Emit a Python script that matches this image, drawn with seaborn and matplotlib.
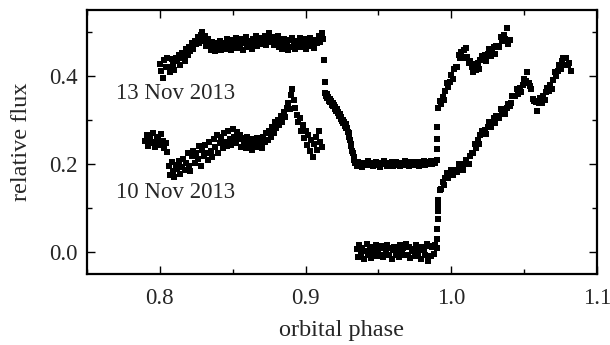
import numpy as np
import pandas as pd
import matplotlib
matplotlib.use("Agg")
import matplotlib.pyplot as plt
import seaborn as sns
from matplotlib.ticker import MultipleLocator

# ---------------- data ----------------
# 13 Nov 2013, pre-eclipse, phase 0.800 .. 0.912 step 0.001
nov13_pre_start = 0.800
nov13_pre = [0.427, 0.412, 0.396, 0.436, 0.420, 0.440, 0.421, 0.410, 0.439, 0.425,
             0.414, 0.442, 0.433, 0.448, 0.426, 0.452, 0.441, 0.435, 0.462, 0.448,
             0.466, 0.456, 0.474, 0.461, 0.480, 0.472, 0.488, 0.476, 0.494, 0.501,
             0.479, 0.490, 0.468, 0.484, 0.472, 0.460, 0.478, 0.466, 0.456, 0.474,
             0.462, 0.480, 0.458, 0.470, 0.476, 0.461, 0.483, 0.467, 0.474, 0.459,
             0.481, 0.470, 0.486, 0.463, 0.477, 0.468, 0.484, 0.460, 0.474, 0.488,
             0.466, 0.479, 0.471, 0.462, 0.485, 0.474, 0.490, 0.468, 0.480, 0.472,
             0.486, 0.476, 0.492, 0.470, 0.484, 0.497, 0.478, 0.488, 0.471, 0.485,
             0.474, 0.490, 0.466, 0.478, 0.462, 0.483, 0.470, 0.476, 0.459, 0.481,
             0.467, 0.486, 0.473, 0.462, 0.480, 0.470, 0.487, 0.465, 0.477, 0.484,
             0.461, 0.474, 0.468, 0.486, 0.470, 0.479, 0.464, 0.482, 0.474, 0.490,
             0.478, 0.497, 0.484]
# sparse points in the gap before ingress
nov13_ingress_dots_x = [0.9127, 0.9131]
nov13_ingress_dots_y = [0.437, 0.386]
# ingress, phase 0.9135 .. 0.9340 step 0.0005
nov13_ingress_start = 0.9135
nov13_ingress = [0.362, 0.354, 0.359, 0.349, 0.353, 0.344, 0.348, 0.340, 0.344, 0.335,
                 0.339, 0.331, 0.335, 0.326, 0.329, 0.320, 0.324, 0.315, 0.319, 0.309,
                 0.313, 0.303, 0.307, 0.298, 0.301, 0.292, 0.296, 0.286, 0.291, 0.281,
                 0.282, 0.272, 0.270, 0.261, 0.255, 0.245, 0.240, 0.230, 0.225, 0.215,
                 0.210, 0.203]
# totality plateau, phase 0.934 .. 0.990 step 0.001
nov13_flat_start = 0.934
nov13_flat = [0.202, 0.196, 0.205, 0.199, 0.201, 0.194, 0.203, 0.200, 0.197, 0.206,
              0.199, 0.202, 0.195, 0.201, 0.205, 0.198, 0.200, 0.194, 0.203, 0.199,
              0.207, 0.200, 0.196, 0.202, 0.199, 0.205, 0.195, 0.201, 0.204, 0.197,
              0.200, 0.195, 0.203, 0.199, 0.206, 0.197, 0.201, 0.196, 0.204, 0.200,
              0.197, 0.205, 0.199, 0.203, 0.196, 0.204, 0.200, 0.206, 0.198, 0.203,
              0.205, 0.199, 0.207, 0.201, 0.205, 0.202, 0.208]
# egress dots
nov13_egress_dots_x = [0.9902, 0.9903, 0.9904]
nov13_egress_dots_y = [0.233, 0.257, 0.284]
# post-egress, phase 0.991 .. 1.040 step 0.001
nov13_post_start = 0.991
nov13_post = [0.328, 0.344, 0.336, 0.353, 0.345, 0.366, 0.383, 0.374, 0.387, 0.403,
              0.394, 0.416, 0.420, 0.421, 0.448, 0.440, 0.454, 0.442, 0.458, 0.463,
              0.443, 0.430, 0.435, 0.420, 0.410, 0.427, 0.413, 0.429, 0.416, 0.436,
              0.446, 0.436, 0.448, 0.435, 0.450, 0.461, 0.446, 0.454, 0.465, 0.451,
              0.468, 0.468, 0.465, 0.488, 0.480, 0.494, 0.485, 0.509, 0.473, 0.481]

# 10 Nov 2013, first chunk, phase 0.790 .. 0.805
nov10_a_start = 0.790
nov10_a = [0.252, 0.266, 0.240, 0.258, 0.247, 0.270, 0.250, 0.238, 0.262, 0.255,
           0.244, 0.268, 0.252, 0.236, 0.248, 0.228]
# second chunk, phase 0.806 .. 0.911
nov10_b_start = 0.806
nov10_b = [0.196, 0.176, 0.204, 0.183, 0.170, 0.198, 0.188, 0.206, 0.178, 0.194,
           0.212, 0.186, 0.203, 0.224, 0.196, 0.184, 0.218, 0.230, 0.202, 0.226,
           0.212, 0.240, 0.196, 0.232, 0.218, 0.244, 0.226, 0.208, 0.250, 0.230,
           0.216, 0.256, 0.238, 0.266, 0.226, 0.248, 0.262, 0.236, 0.270, 0.250,
           0.240, 0.276, 0.256, 0.244, 0.280, 0.262, 0.248, 0.272, 0.256, 0.266,
           0.238, 0.258, 0.248, 0.236, 0.262, 0.244, 0.252, 0.232, 0.256, 0.246,
           0.238, 0.260, 0.242, 0.252, 0.236, 0.262, 0.250, 0.270, 0.254, 0.276,
           0.262, 0.284, 0.270, 0.296, 0.282, 0.300, 0.288, 0.310, 0.296, 0.318,
           0.306, 0.328, 0.338, 0.326, 0.356, 0.370, 0.346, 0.328, 0.312, 0.296,
           0.304, 0.276, 0.288, 0.258, 0.274, 0.242, 0.266, 0.230, 0.254, 0.216,
           0.246, 0.262, 0.232, 0.274, 0.250, 0.238]
# totality, phase 0.935 .. 0.990
nov10_flat_start = 0.935
nov10_flat = [0.006, -0.012, 0.016, -0.004, 0.010, -0.016, 0.002, 0.018, -0.008, 0.006,
              -0.014, 0.012, -0.002, 0.015, -0.010, 0.004, -0.006, 0.014, -0.012, 0.008,
              0.000, 0.016, -0.008, 0.010, -0.015, 0.004, 0.012, -0.006, 0.006, -0.012,
              0.015, -0.002, 0.010, -0.008, 0.017, -0.006, 0.012, -0.013, 0.006, 0.002,
              -0.010, 0.015, -0.004, 0.010, -0.015, 0.012, 0.004, -0.008, 0.018, -0.021,
              0.014, -0.010, 0.012, -0.004, 0.016, 0.008]
# egress dots
nov10_egress_dots_x = [0.9904, 0.9905, 0.9906, 0.9907, 0.9908]
nov10_egress_dots_y = [0.030, 0.052, 0.074, 0.094, 0.106]
# post-egress, phase 0.991 .. 1.082
nov10_post_start = 0.991
nov10_post = [0.118, 0.140, 0.143, 0.160, 0.153, 0.168, 0.179, 0.169, 0.176, 0.186,
              0.174, 0.187, 0.186, 0.182, 0.200, 0.190, 0.199, 0.186, 0.199, 0.209,
              0.201, 0.201, 0.218, 0.224, 0.226, 0.245, 0.237, 0.254, 0.246, 0.265,
              0.274, 0.267, 0.278, 0.269, 0.284, 0.295, 0.285, 0.293, 0.304, 0.294,
              0.308, 0.308, 0.305, 0.324, 0.315, 0.325, 0.314, 0.327, 0.337, 0.332,
              0.338, 0.355, 0.355, 0.354, 0.370, 0.359, 0.373, 0.363, 0.380, 0.393,
              0.389, 0.409, 0.383, 0.377, 0.371, 0.347, 0.343, 0.340, 0.320, 0.338,
              0.349, 0.339, 0.354, 0.345, 0.363, 0.373, 0.367, 0.379, 0.371, 0.392,
              0.409, 0.401, 0.411, 0.424, 0.416, 0.433, 0.440, 0.426, 0.440, 0.424,
              0.429, 0.411]

labels_text = ["13 Nov 2013", "10 Nov 2013"]
x_label = "orbital phase"
y_label = "relative flux"


def grid_segment(start, step, values):
    return start + step * np.arange(len(values)), np.asarray(values)


segments = [
    grid_segment(nov13_pre_start, 0.001, nov13_pre),
    (np.asarray(nov13_ingress_dots_x), np.asarray(nov13_ingress_dots_y)),
    grid_segment(nov13_ingress_start, 0.0005, nov13_ingress),
    grid_segment(nov13_flat_start, 0.001, nov13_flat),
    (np.asarray(nov13_egress_dots_x), np.asarray(nov13_egress_dots_y)),
    grid_segment(nov13_post_start, 0.001, nov13_post),
    grid_segment(nov10_a_start, 0.001, nov10_a),
    grid_segment(nov10_b_start, 0.001, nov10_b),
    grid_segment(nov10_flat_start, 0.001, nov10_flat),
    (np.asarray(nov10_egress_dots_x), np.asarray(nov10_egress_dots_y)),
    grid_segment(nov10_post_start, 0.001, nov10_post),
]
df = pd.DataFrame({
    "phase": np.concatenate([s[0] for s in segments]),
    "flux": np.concatenate([s[1] for s in segments]),
})

# ---------------- style ----------------
sns.set_style("ticks")
plt.rcParams["font.family"] = ["Liberation Serif", "DejaVu Serif"]

fig = plt.figure(figsize=(6.10, 3.45), dpi=100)
ax = fig.add_axes([0.1426, 0.206, 0.8361, 0.765])

sns.scatterplot(data=df, x="phase", y="flux", ax=ax, color="black",
                marker="s", s=15, linewidth=0, legend=False)

ax.set_xlim(0.75, 1.1)
ax.set_ylim(-0.05, 0.55)
ax.xaxis.set_minor_locator(MultipleLocator(0.05))
ax.yaxis.set_minor_locator(MultipleLocator(0.1))
ax.set_xticks([0.8, 0.9, 1.0, 1.1])
ax.set_xticklabels(["0.8", "0.9", "1.0", "1.1"])
ax.set_yticks([0.0, 0.2, 0.4])
ax.set_yticklabels(["0.0", "0.2", "0.4"])

ax.tick_params(which="both", direction="in", top=True, right=True,
               labelsize=16.5, color="black", width=1.0)
ax.tick_params(which="major", length=6)
ax.tick_params(axis="x", which="major", pad=10)
ax.tick_params(axis="y", which="major", pad=7)
ax.tick_params(which="minor", length=3.5)
for sp in ax.spines.values():
    sp.set_linewidth(1.6)
    sp.set_color("black")

ax.set_xlabel(x_label, fontsize=17.5, labelpad=8)
ax.set_ylabel(y_label, fontsize=17.5, labelpad=12)

ax.text(0.7700, 0.36, labels_text[0], fontsize=16.5, ha="left", va="center")
ax.text(0.7700, 0.136, labels_text[1], fontsize=16.5, ha="left", va="center")

fig.savefig("out.png", dpi=100)
